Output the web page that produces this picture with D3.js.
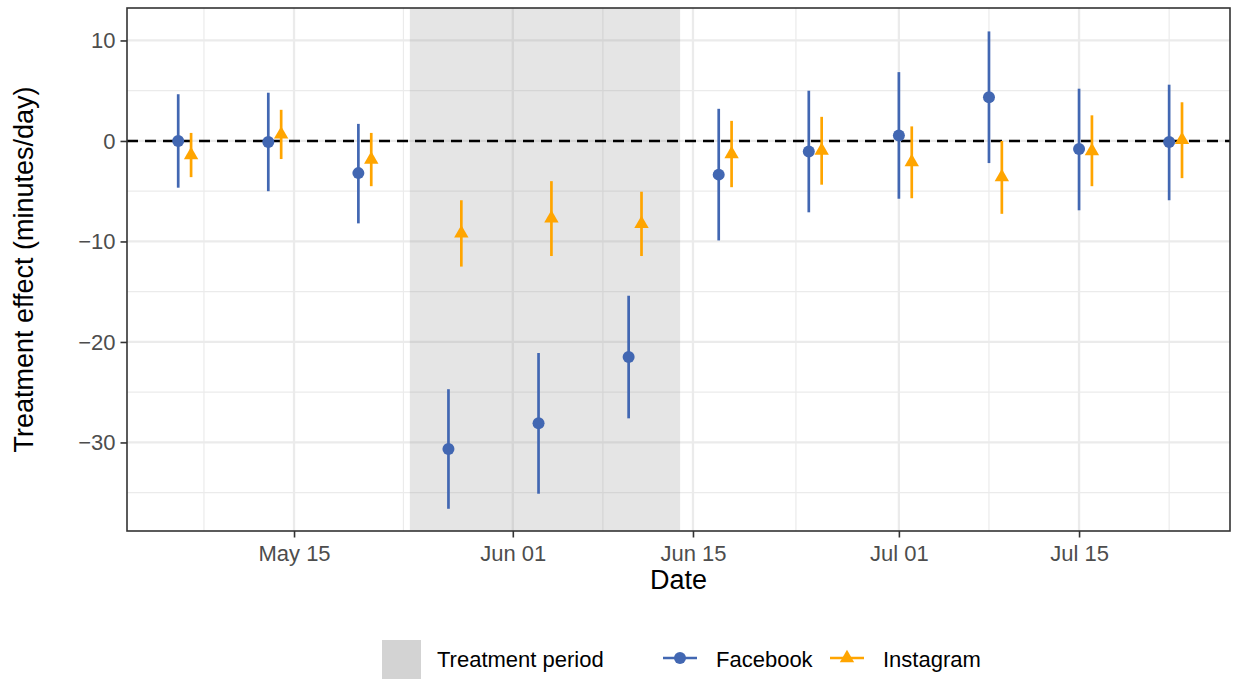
<!DOCTYPE html>
<html><head><meta charset="utf-8">
<script src="https://cdn.jsdelivr.net/npm/d3@7"></script>
<style>body{margin:0;background:#fff}svg{display:block;font-family:"Liberation Sans",Arial,Helvetica,sans-serif}</style>
</head><body><svg id="c" width="1238" height="679"></svg>
<script>
// ---- data ----
const fbDates = ["2021-05-06","2021-05-13","2021-05-20","2021-05-27","2021-06-03","2021-06-10","2021-06-17","2021-06-24","2021-07-01","2021-07-08","2021-07-15","2021-07-22"];
const igDates = ["2021-05-07","2021-05-14","2021-05-21","2021-05-28","2021-06-04","2021-06-11","2021-06-18","2021-06-25","2021-07-02","2021-07-09","2021-07-16","2021-07-23"];
const fbEst = [0.0,-0.1,-3.2,-30.65,-28.1,-21.5,-3.35,-1.05,0.55,4.35,-0.8,-0.1];
const fbLow = [-4.65,-5.0,-8.2,-36.6,-35.1,-27.6,-9.9,-7.1,-5.75,-2.2,-6.9,-5.9];
const fbHigh = [4.65,4.8,1.7,-24.7,-21.1,-15.4,3.2,5.0,6.85,10.9,5.2,5.6];
const igEst = [-1.4,0.65,-1.85,-9.2,-7.7,-8.25,-1.3,-0.95,-2.1,-3.6,-1.0,0.1];
const igLow = [-3.6,-1.8,-4.5,-12.5,-11.45,-11.45,-4.6,-4.35,-5.7,-7.25,-4.5,-3.7];
const igHigh = [0.8,3.1,0.8,-5.9,-4.0,-5.05,2.0,2.4,1.45,0.0,2.55,3.85];
const treatStart = "2021-05-24", treatEnd = "2021-06-14";
const xTickDates = ["2021-05-15","2021-06-01","2021-06-15","2021-07-01","2021-07-15"];
const xTickLabels = ["May 15","Jun 01","Jun 15","Jul 01","Jul 15"];
const xMinorDates = ["2021-05-08","2021-05-23T12:00","2021-06-08","2021-06-23","2021-07-08","2021-07-22"];
const yTicks = [10,0,-10,-20,-30];
const yMinor = [5,-5,-15,-25,-35];
const seriesNames = ["Facebook","Instagram"];
const colors = {Facebook:"#4267B2", Instagram:"#FFA500"};
const xLimits = ["2021-05-02T00:30","2021-07-26T17:30"];
const yLimits = [-38.81, 13.23];

const P = d => new Date(d + (d.length===10 ? "T00:00Z" : "Z"));
const svg = d3.select("#c");
const L=127, R=1230, T=8, B=531;

const x = d3.scaleUtc().domain(xLimits.map(P)).range([L,R]);
const y = d3.scaleLinear().domain(yLimits).range([B,T]);

// grid
const g = svg.append("g");
g.selectAll(".ymin").data(yMinor).join("line").attr("x1",L).attr("x2",R).attr("y1",d=>y(d)).attr("y2",d=>y(d)).attr("stroke","#EBEBEB").attr("stroke-width",1.2);
g.selectAll(".xmin").data(xMinorDates).join("line").attr("y1",T).attr("y2",B).attr("x1",d=>x(P(d))).attr("x2",d=>x(P(d))).attr("stroke","#EBEBEB").attr("stroke-width",1.2);
g.selectAll(".ymaj").data(yTicks).join("line").attr("x1",L).attr("x2",R).attr("y1",d=>y(d)).attr("y2",d=>y(d)).attr("stroke","#EBEBEB").attr("stroke-width",2.3);
g.selectAll(".xmaj").data(xTickDates).join("line").attr("y1",T).attr("y2",B).attr("x1",d=>x(P(d))).attr("x2",d=>x(P(d))).attr("stroke","#EBEBEB").attr("stroke-width",2.3);

// treatment period
svg.append("rect").attr("x",x(P(treatStart))).attr("y",T).attr("width",x(P(treatEnd))-x(P(treatStart))).attr("height",B-T)
  .attr("fill","#7F7F7F").attr("fill-opacity",0.2);

// zero line
svg.append("line").attr("x1",L).attr("x2",R).attr("y1",y(0)).attr("y2",y(0)).attr("stroke","#000").attr("stroke-width",2.6).attr("stroke-dasharray","11,7");

// triangle path (R pch 17 geometry)
function tri(cx,cy,r){const xc=r*Math.sqrt(3)/2;return `M${cx},${cy-r}L${cx+xc},${cy+r/2}L${cx-xc},${cy+r/2}Z`;}

const fb = fbDates.map((d,i)=>({d:P(d),e:fbEst[i],lo:fbLow[i],hi:fbHigh[i]}));
const ig = igDates.map((d,i)=>({d:P(d),e:igEst[i],lo:igLow[i],hi:igHigh[i]}));

svg.selectAll(".fbl").data(fb).join("line").attr("x1",d=>x(d.d)).attr("x2",d=>x(d.d)).attr("y1",d=>y(d.lo)).attr("y2",d=>y(d.hi)).attr("stroke",colors.Facebook).attr("stroke-width",2.7);
svg.selectAll(".fbp").data(fb).join("circle").attr("cx",d=>x(d.d)).attr("cy",d=>y(d.e)).attr("r",6).attr("fill",colors.Facebook);
svg.selectAll(".igl").data(ig).join("line").attr("x1",d=>x(d.d)).attr("x2",d=>x(d.d)).attr("y1",d=>y(d.lo)).attr("y2",d=>y(d.hi)).attr("stroke",colors.Instagram).attr("stroke-width",2.7);
svg.selectAll(".igp").data(ig).join("path").attr("d",d=>tri(x(d.d),y(d.e),8.3)).attr("fill",colors.Instagram);

// panel border
svg.append("rect").attr("x",L).attr("y",T).attr("width",R-L).attr("height",B-T).attr("fill","none").attr("stroke","#333").attr("stroke-width",1.6);

// axes
const xAxis = d3.axisBottom(x).tickValues(xTickDates.map(P)).tickFormat((d,i)=>xTickLabels[i]).tickSize(6.5).tickPadding(8);
const xa = svg.append("g").attr("transform",`translate(0,${B})`).call(xAxis);
const yAxis = d3.axisLeft(y).tickValues(yTicks).tickFormat(d=>d<0?"\u2212"+Math.abs(d):d).tickSize(6.5).tickPadding(5);
const ya = svg.append("g").attr("transform",`translate(${L},0)`).call(yAxis);
[xa,ya].forEach(a=>{a.select(".domain").remove();a.selectAll(".tick line").attr("stroke","#333").attr("stroke-width",1.6);
  a.selectAll(".tick text").attr("fill","#4D4D4D").style("font-size","22px").style("font-family","'Liberation Sans',Arial,sans-serif");});

svg.append("text").attr("x",(L+R)/2).attr("y",589).attr("text-anchor","middle").style("font-size","27px").attr("fill","#000").text("Date");
svg.append("text").attr("transform",`translate(33,${(T+B)/2}) rotate(-90)`).attr("text-anchor","middle").style("font-size","27px").attr("fill","#000").text("Treatment effect (minutes/day)");

// legend
svg.append("rect").attr("x",382).attr("y",640).attr("width",39).attr("height",39).attr("fill","#D3D3D3");
svg.append("text").attr("x",437).attr("y",667).style("font-size","22px").attr("fill","#000").text("Treatment period");
const legItems = [{n:seriesNames[0],x0:663,tx:716},{n:seriesNames[1],x0:830,tx:883}];
legItems.forEach(it=>{
  const c=colors[it.n], ly=658;
  svg.append("line").attr("x1",it.x0).attr("x2",it.x0+34).attr("y1",ly).attr("y2",ly).attr("stroke",c).attr("stroke-width",2.7);
  if(it.n==="Facebook") svg.append("circle").attr("cx",it.x0+17).attr("cy",ly).attr("r",6).attr("fill",c);
  else svg.append("path").attr("d",tri(it.x0+17,ly,8.3)).attr("fill",c);
  svg.append("text").attr("x",it.tx).attr("y",667).style("font-size","22px").attr("fill","#000").text(it.n);
});
</script></body></html>
